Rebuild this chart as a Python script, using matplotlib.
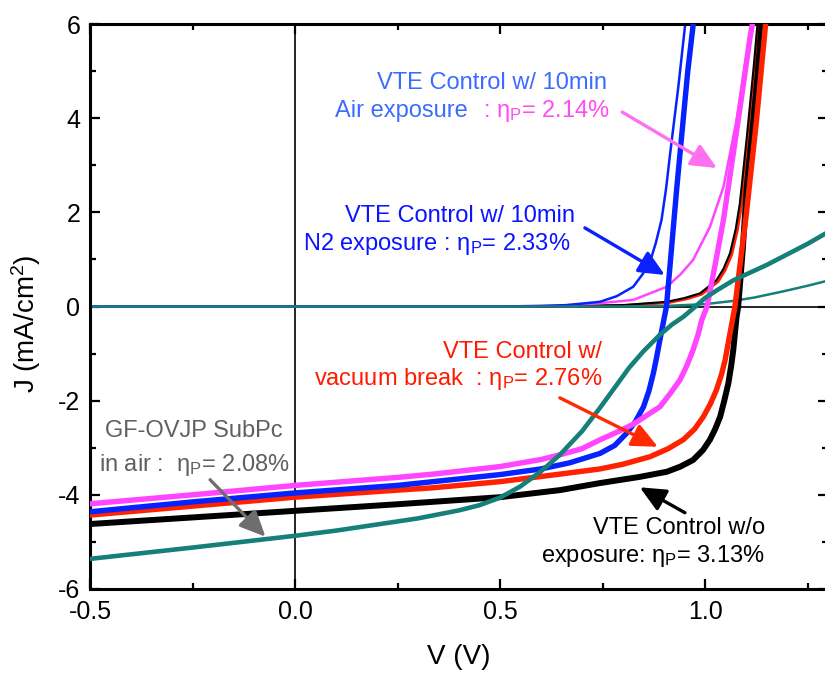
import matplotlib
matplotlib.use("Agg")
import matplotlib.pyplot as plt
from matplotlib.ticker import MultipleLocator

plt.rcParams['font.family'] = ['Liberation Sans', 'DejaVu Sans']
plt.rcParams['mathtext.fontset'] = 'custom'
plt.rcParams['mathtext.rm'] = 'Liberation Sans'
plt.rcParams['mathtext.it'] = 'Liberation Sans'
plt.rcParams['axes.unicode_minus'] = False

# ---- J-V data (V in volts, J in mA/cm^2) ----
# illuminated curves
v_wo = [-0.5, -0.25, 0.0, 0.25, 0.5, 0.646, 0.744, 0.84, 0.907, 0.94, 0.971, 0.995, 1.012, 1.025,
        1.037, 1.047, 1.057, 1.064, 1.069, 1.077, 1.081, 1.092, 1.102, 1.114, 1.126, 1.14]
j_wo = [-4.62, -4.48, -4.34, -4.2, -4.05, -3.9, -3.75, -3.62, -3.51, -3.4, -3.26, -3.05, -2.83, -2.6,
        -2.34, -2.0, -1.63, -1.25, -0.92, -0.22, 0.0, 1.2, 2.54, 3.6, 4.67, 6.2]

v_vac = [-0.5, -0.25, 0.0, 0.25, 0.337, 0.5, 0.646, 0.744, 0.80, 0.866, 0.91, 0.947, 0.975, 0.996,
         1.013, 1.028, 1.04, 1.049, 1.061, 1.073, 1.087, 1.1, 1.125, 1.15]
j_vac = [-4.43, -4.24, -4.05, -3.9, -3.85, -3.72, -3.56, -3.45, -3.35, -3.19, -3.02, -2.83, -2.6, -2.34,
         -2.07, -1.77, -1.45, -1.14, -0.57, 0.0, 1.0, 1.9, 3.9, 6.2]

v_n2 = [-0.5, -0.25, 0.0, 0.25, 0.337, 0.5, 0.6, 0.67, 0.744, 0.78, 0.809, 0.83, 0.85, 0.863, 0.874,
        0.882, 0.89, 0.906, 0.918, 0.931, 0.945, 0.958, 0.974]
j_n2 = [-4.36, -4.15, -3.96, -3.8, -3.72, -3.57, -3.45, -3.32, -3.12, -2.95, -2.69, -2.45, -2.13, -1.8,
        -1.42, -1.08, -0.71, 0.0, 1.2, 2.5, 3.8, 5.0, 6.2]

v_air = [-0.5, -0.25, 0.0, 0.25, 0.337, 0.5, 0.6, 0.646, 0.7, 0.744, 0.79, 0.825, 0.86, 0.89, 0.915,
         0.939, 0.956, 0.971, 0.983, 0.992, 1.005, 1.025, 1.045, 1.069, 1.09, 1.11, 1.12]
j_air = [-4.19, -4.0, -3.80, -3.63, -3.56, -3.4, -3.25, -3.15, -3.02, -2.83, -2.65, -2.5, -2.3, -2.13,
         -1.85, -1.56, -1.25, -0.92, -0.6, -0.29, 0.0, 0.9, 1.84, 3.25, 4.5, 5.73, 6.2]

v_ovjp = [-0.5, -0.25, 0.0, 0.1, 0.2, 0.3, 0.4, 0.45, 0.5, 0.55, 0.6, 0.646, 0.7, 0.744, 0.78,
          0.815, 0.85, 0.89, 0.92, 0.947, 0.97, 1.0, 1.03, 1.07, 1.11, 1.15, 1.19, 1.25, 1.3]
j_ovjp = [-5.36, -5.12, -4.87, -4.76, -4.63, -4.50, -4.33, -4.22, -4.06, -3.82, -3.5, -3.15, -2.65,
          -2.15, -1.72, -1.3, -0.95, -0.6, -0.38, -0.22, -0.05, 0.18, 0.35, 0.56, 0.72, 0.88, 1.06,
          1.33, 1.58]

# dark curves
vd_wo = [-0.5, 0.0, 0.6, 0.8, 0.907, 0.95, 0.988, 1.028, 1.045, 1.061, 1.075, 1.085, 1.102, 1.118, 1.13]
jd_wo = [0.0, 0.0, 0.0, 0.03, 0.1, 0.18, 0.28, 0.56, 0.8, 1.13, 1.65, 2.19, 3.6, 5.02, 6.2]

vd_vac = [-0.5, 0.0, 0.6, 0.8, 0.91, 0.955, 0.992, 1.032, 1.049, 1.065, 1.079, 1.089, 1.106, 1.122, 1.134]
jd_vac = [0.0, 0.0, 0.0, 0.02, 0.08, 0.16, 0.26, 0.53, 0.77, 1.1, 1.62, 2.15, 3.55, 5.0, 6.2]

vd_n2 = [-0.5, 0.0, 0.5, 0.6, 0.663, 0.744, 0.785, 0.825, 0.849, 0.866, 0.88, 0.894, 0.905, 0.915,
         0.935, 0.951, 0.955]
jd_n2 = [0.0, 0.0, 0.0, 0.01, 0.03, 0.1, 0.22, 0.42, 0.7, 0.95, 1.35, 1.84, 2.5, 3.25, 4.67, 5.94, 6.2]

vd_air = [-0.5, 0.0, 0.5, 0.65, 0.744, 0.825, 0.907, 0.94, 0.971, 1.012, 1.045, 1.077, 1.102, 1.117]
jd_air = [0.0, 0.0, 0.0, 0.02, 0.07, 0.14, 0.42, 0.68, 0.99, 1.69, 2.54, 3.96, 5.38, 6.2]

vd_ovjp = [-0.5, 0.0, 0.8, 0.9, 1.0, 1.07, 1.12, 1.19, 1.25, 1.3]
jd_ovjp = [0.0, 0.0, 0.0, 0.01, 0.05, 0.12, 0.19, 0.32, 0.44, 0.55]

C_BLACK = '#000000'
C_RED = '#ff2200'
C_BLUE = '#0522ff'
C_MAG = '#ff45ff'
C_TEAL = '#15807a'

fig = plt.figure(figsize=(8.25, 6.75), dpi=100)
ax = fig.add_axes([90 / 825, 86 / 675, 738 / 825, 565 / 675])

ax.set_xlim(-0.5, 1.3)
ax.set_ylim(-6, 6)

# zero reference lines
ax.axhline(0, color='black', lw=1.2, zorder=1)
ax.axvline(0, color='black', lw=1.2, zorder=1)

# dark curves (thin)
ax.plot(vd_vac, jd_vac, color=C_RED, lw=2.0, zorder=2)
ax.plot(vd_wo, jd_wo, color=C_BLACK, lw=1.5, zorder=2.1)
ax.plot(vd_air, jd_air, color=C_MAG, lw=1.8, zorder=2.2)
ax.plot(vd_n2, jd_n2, color=C_BLUE, lw=1.8, zorder=2.3)
ax.plot(vd_ovjp, jd_ovjp, color=C_TEAL, lw=1.8, zorder=2.4)

# illuminated curves (thick)
ax.plot(v_wo, j_wo, color=C_BLACK, lw=4.3, zorder=3)
ax.plot(v_vac, j_vac, color=C_RED, lw=3.9, zorder=3.1)
ax.plot(v_n2, j_n2, color=C_BLUE, lw=3.9, zorder=3.2)
ax.plot(v_air, j_air, color=C_MAG, lw=3.9, zorder=3.3)
ax.plot(v_ovjp, j_ovjp, color=C_TEAL, lw=3.3, zorder=3.4)

# axes styling
for sp in ax.spines.values():
    sp.set_linewidth(2.2)
ax.xaxis.set_major_locator(MultipleLocator(0.5))
ax.xaxis.set_minor_locator(MultipleLocator(0.25))
ax.yaxis.set_major_locator(MultipleLocator(2))
ax.yaxis.set_minor_locator(MultipleLocator(1))
ax.tick_params(which='both', direction='in', top=True, right=True, width=1.6, labelsize=18)
ax.tick_params(which='major', length=7.5)
ax.tick_params(which='minor', length=4)
ax.tick_params(axis='x', pad=8)
ax.tick_params(axis='y', pad=7)
ax.set_xticks([-0.5, 0.0, 0.5, 1.0])
ax.set_xticklabels(['-0.5', '0.0', '0.5', '1.0'])

ax.set_xlabel('V (V)', fontsize=20, va='center')
ax.xaxis.set_label_coords(0.5, -0.12)
ax.set_ylabel(r'J (mA/cm$^\mathrm{2}$)', fontsize=20, va='center')
ax.yaxis.set_label_coords(-0.086, 0.47)

FS = 17
eta = r'$\mathrm{η_P}$'

# annotations
ax.text(0.761, 4.62, 'VTE Control w/ 10min', color='#3c6cff', fontsize=FS, ha='right', va='baseline')
ax.text(0.0976, 4.03, 'Air exposure', color='#3c6cff', fontsize=FS, ha='left', va='baseline')
ax.text(0.768, 4.03, ': ' + eta + '= 2.14%', color='#ff4df0', fontsize=FS, ha='right', va='baseline')

ax.text(0.122, 1.80, 'VTE Control w/ 10min', color='#0a14ff', fontsize=FS, ha='left', va='baseline')
ax.text(0.0195, 1.20, 'N2 exposure : ' + eta + '= 2.33%', color='#0a14ff', fontsize=FS, ha='left',
        va='baseline')

ax.text(0.749, -1.09, 'VTE Control w/', color='#ff1a00', fontsize=FS, ha='right', va='baseline')
ax.text(0.749, -1.67, 'vacuum break  : ' + eta + '= 2.76%', color='#ff1a00', fontsize=FS, ha='right',
        va='baseline')

ax.text(-0.246, -2.78, 'GF-OVJP SubPc', color='#606060', fontsize=FS, ha='center', va='baseline')
ax.text(-0.246, -3.49, 'in air :  ' + eta + '= 2.08%', color='#606060', fontsize=FS, ha='center',
        va='baseline')

ax.text(1.146, -4.83, 'VTE Control w/o', color='black', fontsize=FS, ha='right', va='baseline')
ax.text(1.146, -5.42, 'exposure: ' + eta + '= 3.13%', color='black', fontsize=FS, ha='right',
        va='baseline')


def arrow(tail, head, color):
    ax.annotate('', xy=head, xytext=tail,
                arrowprops=dict(arrowstyle='-|>,head_length=1.2,head_width=0.55', color=color,
                                lw=2.4, mutation_scale=13, shrinkA=0, shrinkB=0),
                zorder=5)


arrow((0.798, 4.13), (1.029, 2.94), '#ff70f0')
arrow((0.707, 1.67), (0.902, 0.67), '#0a20ff')
arrow((0.646, -1.94), (0.885, -2.98), '#ff2a00')
arrow((-0.207, -3.68), (-0.072, -4.89), '#6e6e6e')
arrow((0.951, -4.38), (0.841, -3.84), 'black')

fig.savefig('out.png', dpi=100)
